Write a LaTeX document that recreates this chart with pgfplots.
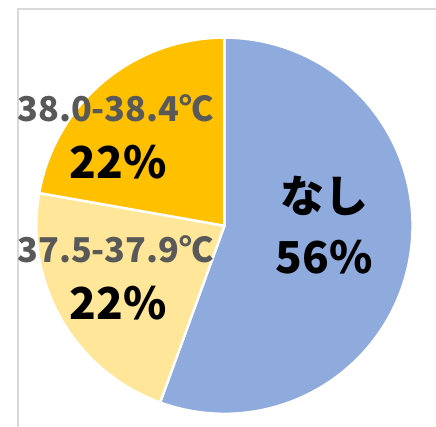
\documentclass[border=0pt]{standalone}
\usepackage{pgfplots}
\pgfplotsset{compat=1.18}
\usepackage{pgfplotstable}
\usepgfplotslibrary{polar}
\usepackage{fontspec}
\setmainfont{Noto Sans CJK JP}
\definecolor{sliceblue}{HTML}{8FAADC}
\definecolor{sliceyellow}{HTML}{FFE699}
\definecolor{sliceorange}{HTML}{FFC000}
\definecolor{labelgray}{HTML}{595959}
\definecolor{framegray}{HTML}{D9D9D9}
\pgfplotstableread{
label value
none 5
low 2
high 2
}\piedata
\begin{document}
\pgfplotstablegetelem{0}{value}\of\piedata \let\va\pgfplotsretval
\pgfplotstablegetelem{1}{value}\of\piedata \let\vb\pgfplotsretval
\pgfplotstablegetelem{2}{value}\of\piedata \let\vc\pgfplotsretval
\pgfmathsetmacro\total{\va+\vb+\vc}
\pgfmathsetmacro\aA{90}
\pgfmathsetmacro\aB{90-360*\va/\total}
\pgfmathsetmacro\aC{\aB-360*\vb/\total}
\pgfmathsetmacro\aD{\aC-360*\vc/\total}
\begin{tikzpicture}[x=1pt,y=1pt]
\path[use as bounding box, clip] (0,0) rectangle (435,436);
\draw[framegray, line width=1.5pt] (7,-20) -- (7,427) -- (460,427);
\begin{polaraxis}[
  at={(218.5pt,205pt)}, anchor=origin,
  scale only axis, width=385pt, height=385pt,
  ymin=0, ymax=1, xmin=0, xmax=360,
  hide axis, clip=false,
]
\addplot[fill=sliceblue, draw=white, line width=2.5pt, line join=round, domain=\aB:\aA, samples=120] {1} -- (axis cs:0,0) -- cycle;
\addplot[fill=sliceyellow, draw=white, line width=2.5pt, line join=round, domain=\aC:\aB, samples=60] {1} -- (axis cs:0,0) -- cycle;
\addplot[fill=sliceorange, draw=white, line width=2.5pt, line join=round, domain=\aD:\aC, samples=60] {1} -- (axis cs:0,0) -- cycle;
\end{polaraxis}
\node[font=\bfseries\fontsize{35}{35}\selectfont, text=labelgray] at (107,325) {38.0-38.4℃};
\node[font=\bfseries\fontsize{45}{45}\selectfont, text=black] at (110,270.5) {22\%};
\node[font=\bfseries\fontsize{35}{35}\selectfont, text=labelgray] at (107,180.5) {37.5-37.9℃};
\node[font=\bfseries\fontsize{45}{45}\selectfont, text=black] at (110,125.5) {22\%};
\node[font=\bfseries\fontsize{45}{45}\selectfont, text=black] at (321,235) {なし};
\node[font=\bfseries\fontsize{45}{45}\selectfont, text=black] at (320.5,173) {56\%};
\end{tikzpicture}
\end{document}
